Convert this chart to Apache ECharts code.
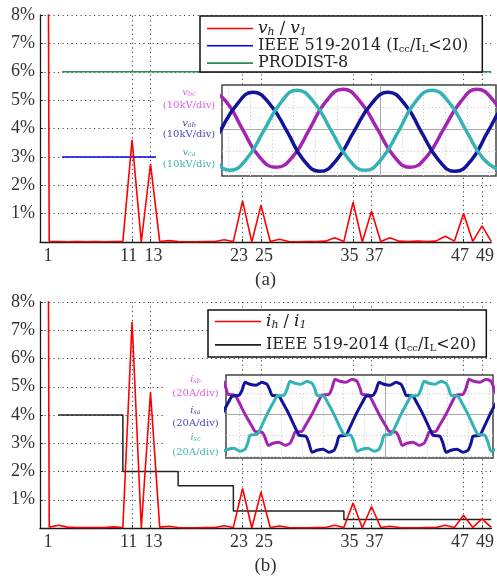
<!DOCTYPE html>
<html>
<head>
<meta charset="utf-8">
<script src="https://cdn.jsdelivr.net/npm/echarts@6/dist/echarts.min.js"></script>
<style>
html, body { margin: 0; padding: 0; background: #fff; }
#chart { width: 497px; height: 584px; }
</style>
</head>
<body>
<div id="chart"></div>
<script>
// harmonic spectra, percent of fundamental
const harmonicOrders = [1,2,3,4,5,6,7,8,9,10,11,12,13,14,15,16,17,18,19,20,21,22,23,24,25,
  26,27,28,29,30,31,32,33,34,35,36,37,38,39,40,41,42,43,44,45,46,47,48,49,50];
const vhPercent = [100,0.02,0.02,0.01,0.02,0.01,0.02,0.01,0.02,0.02,3.6,0,2.75,0.02,0.05,0.02,0.01,0.01,0.02,0.02,
  0.08,0.02,1.45,0,1.3,0.02,0.1,0.02,0.01,0.02,0.02,0.03,0.15,0.02,1.4,0,1.08,0.02,0.15,0.03,
  0.02,0.03,0.02,0.03,0.2,0.03,1.0,0.02,0.57,0.02];
const ihPercent = [100,0.03,0.1,0.03,0.02,0.02,0.02,0.02,0.04,0.02,7.3,0,4.8,0.03,0.06,0.02,0.01,0.01,0.02,0.02,
  0.08,0.02,1.4,0,1.27,0.02,0.07,0.02,0.01,0.01,0.02,0.02,0.1,0.02,0.88,0,0.76,0.02,0.06,0.02,
  0.01,0.01,0.02,0.02,0.1,0.02,0.45,0.02,0.32,0.02];

// limits
const ieeeVOrders = [3.4, 50];
const ieeeVLimit = [3, 3];
const prodistOrders = [3.4, 50];
const prodistLimit = [6, 6];
const ieeeIOrders = [3, 10, 10, 16, 16, 22, 22, 34, 34, 50];
const ieeeILimit = [4, 4, 2, 2, 1.5, 1.5, 0.6, 0.6, 0.3, 0.3];

const tickOrders = [1, 11, 13, 23, 25, 35, 37, 47, 49];

// oscilloscope insets: [time (px from left of screen), level (px from centre)]
const vbcWave = [[-13,40],[4,28],[20,1],[37,-27],[54,-38],[71,-27],[88,1],[104,28],[121,40],[138,28],[155,1],
  [172,-27],[188,-38],[205,-27],[222,1],[239,28],[255,40],[272,28],[289,1]];
const vabWave = [[-35,-42],[-18,-30],[-2,-2],[15,25],[31,37],[48,25],[65,-2],[81,-30],[98,-42],[115,-30],[132,-2],
  [149,25],[166,37],[183,25],[199,-2],[216,-30],[233,-42],[250,-30],[266,-2],[283,25],[300,37]];
const vcaWave = [[-59,39],[-42,27],[-25,-1],[-8,-29],[8,-41],[25,-29],[42,-1],[59,27],[75,39],[92,27],[109,-1],
  [126,-29],[143,-41],[160,-29],[177,-1],[193,27],[210,39],[227,27],[244,-1],[261,-29],[278,-41]];

const isbWave = [[-20,33],[-14,32],[-8,35],[-3,33],[0,26],[2,20],[9,19],[12,14],[19,0],[26,-12],[29,-17],[36,-18],
  [39,-23],[42,-31],[47,-29],[53,-28],[59,-31],[64,-29],[67,-23],[69,-18],[76,-17],[79,-12],[86,0],[93,14],
  [96,19],[103,20],[106,26],[109,35],[114,33],[120,32],[126,35],[131,33],[134,26],[136,20],[143,19],[146,14],
  [153,0],[160,-12],[163,-17],[170,-18],[173,-23],[176,-31],[181,-29],[187,-28],[193,-31],[198,-29],[201,-23],
  [203,-18],[210,-17],[213,-12],[220,0],[227,14],[230,19],[237,20],[240,26],[243,35],[248,33],[254,32],
  [260,35],[265,33],[268,26],[270,20]];
const isaWave = [[-37,-35],[-31,-38],[-26,-36],[-23,-29],[-21,-22],[-14,-21],[-11,-15],[-4,0],[3,13],[6,18],
  [13,19],[16,24],[19,32],[24,30],[30,29],[36,32],[41,30],[44,24],[46,19],[53,18],[56,13],[63,0],[70,-15],
  [73,-21],[80,-22],[83,-29],[86,-38],[91,-36],[97,-35],[103,-38],[108,-36],[111,-29],[113,-22],[120,-21],
  [123,-15],[130,0],[137,13],[140,18],[147,19],[150,24],[153,32],[158,30],[164,29],[170,32],[175,30],[178,24],
  [180,19],[187,18],[190,13],[197,0],[204,-15],[207,-21],[214,-22],[217,-29],[220,-38],[225,-36],[231,-35],
  [237,-38],[242,-36],[245,-29],[247,-22],[254,-21],[257,-15],[264,0],[271,13],[274,18]];
const iscWave = [[-59,30],[-53,33],[-48,31],[-45,25],[-43,19],[-36,18],[-33,13],[-26,0],[-19,-15],[-16,-20],
  [-9,-21],[-6,-28],[-3,-37],[2,-35],[8,-34],[14,-37],[19,-35],[22,-28],[24,-21],[31,-20],[34,-15],[41,0],
  [48,13],[51,18],[58,19],[61,25],[64,33],[69,31],[75,30],[81,33],[86,31],[89,25],[91,19],[98,18],[101,13],
  [108,0],[115,-15],[118,-20],[125,-21],[128,-28],[131,-37],[136,-35],[142,-34],[148,-37],[153,-35],[156,-28],
  [158,-21],[165,-20],[168,-15],[175,0],[182,13],[185,18],[192,19],[195,25],[198,33],[203,31],[209,30],
  [215,33],[220,31],[223,25],[225,19],[232,18],[235,13],[242,0],[249,-15],[252,-20],[259,-21],[262,-28],
  [265,-37],[270,-35],[276,-34]];

const FONT = 'DejaVu Serif';
const TICKFONT = "'Liberation Serif', 'Times New Roman', serif";
const INK = '#333';
const RED = '#ff0000';
const MAG = '#a424b2', NAVY = '#12129a', TEAL = '#33b3b3';
const DOTS = { type: [1.2, 3.3], color: '#444', width: 1 };

const pairs = (xs, ys) => xs.map((x, i) => [x, ys[i]]);

const chart = echarts.init(document.getElementById('chart'));

// paired labels sit a little apart from their ticks
const tickRich = {
  first: { padding: [0, 0, 0, 16] },
  lo: { padding: [0, 7, 0, 0] },
  hi: { padding: [0, 0, 0, 6] }
};
Object.values(tickRich).forEach(r => Object.assign(r, { fontFamily: TICKFONT, fontSize: 18, color: INK }));
function tickLabel(v) {
  if (v === 1) return '{first|1}';
  return tickOrders.indexOf(v) % 2 === 1 ? '{lo|' + v + '}' : '{hi|' + v + '}';
}

function mainX(gridIndex, caption) {
  return {
    type: 'value', gridIndex, min: 1, max: 50,
    name: caption, nameLocation: 'middle', nameGap: 29,
    nameTextStyle: { fontFamily: TICKFONT, fontSize: 19, color: INK },
    axisLine: { show: true, lineStyle: { color: '#1a1a1a', width: 1.3 } },
    axisTick: { show: true, inside: true, length: 3, customValues: tickOrders, lineStyle: { color: '#1a1a1a' } },
    axisLabel: {
      customValues: tickOrders, margin: 5, fontFamily: TICKFONT, fontSize: 18, color: INK,
      showMaxLabel: true, showMinLabel: true, hideOverlap: false,
      formatter: tickLabel, rich: tickRich
    },
    splitLine: { show: false }
  };
}
function mainY(gridIndex) {
  return {
    type: 'value', gridIndex, min: 0, max: 8, interval: 1,
    axisLine: { show: true, lineStyle: { color: '#1a1a1a', width: 1.3 } },
    axisTick: { show: true, inside: true, length: 3, lineStyle: { color: '#1a1a1a' } },
    axisLabel: { margin: 5, fontFamily: TICKFONT, fontSize: 18, color: INK, formatter: v => v === 0 ? '' : v + '%' },
    splitLine: { show: true, lineStyle: DOTS }
  };
}
function insetX(gridIndex, w) { return { type: 'value', gridIndex, min: 0, max: w, show: false }; }
function insetY(gridIndex, lo, hi) { return { type: 'value', gridIndex, min: lo, max: hi, show: false }; }

// vertical dotted grid at the labelled orders
const orderGrid = {
  silent: true, symbol: 'none', z: 1, label: { show: false },
  lineStyle: DOTS,
  data: tickOrders.filter(o => o > 1).map(o => ({ xAxis: o }))
};

// scope graticule as mark lines
function graticule(centre, step, w, lo, hi) {
  const lines = [];
  for (let x = centre - step; x > 2; x -= step) lines.push({ xAxis: x });
  for (let x = centre + step; x < w - 2; x += step) lines.push({ xAxis: x });
  for (let y = step; y < hi - 2; y += step) lines.push({ yAxis: y });
  for (let y = -step; y > lo + 2; y -= step) lines.push({ yAxis: y });
  const dotted = { type: [1, 2.5], color: '#c4c4c4', width: 1 };
  lines.forEach(l => l.lineStyle = dotted);
  lines.push({ xAxis: centre, lineStyle: { type: 'solid', color: '#aaa', width: 1 } });
  lines.push({ yAxis: 0, lineStyle: { type: 'solid', color: '#aaa', width: 1 } });
  return { silent: true, symbol: 'none', z: 11, label: { show: false }, data: lines };
}

function wave(name, xi, data, color, width, smooth, mark) {
  const s = {
    name, type: 'line', xAxisIndex: xi, yAxisIndex: xi, data, symbol: 'none', smooth,
    lineStyle: { color, width }, z: 12, silent: true
  };
  if (mark) s.markLine = mark;
  return s;
}

const rich = {
  n: { fontFamily: FONT, fontSize: 16, lineHeight: 18, color: '#222' },
  it: { fontFamily: FONT, fontStyle: 'italic', fontSize: 17, lineHeight: 18, color: '#222' },
  sub: { fontFamily: FONT, fontSize: 10, lineHeight: 10, verticalAlign: 'bottom', color: '#222' },
  isub: { fontFamily: FONT, fontStyle: 'italic', fontSize: 11, lineHeight: 10, verticalAlign: 'bottom', color: '#222' }
};
const legendText = {
  vh: '{it|v}{isub|h}{n| / }{it|v}{isub|1}',
  ih: '{it|i}{isub|h}{n| / }{it|i}{isub|1}',
  ieeeV: '{n|IEEE 519-2014 (I}{sub|cc}{n|/I}{sub|L}{n|<20)}',
  ieeeI: '{n|IEEE 519-2014 (I}{sub|cc}{n|/I}{sub|L}{n|<20)}',
  prodist: '{n|PRODIST-8}'
};
function legend(names, left, top, padding, gap) {
  return {
    data: names, orient: 'vertical', left, top, padding, itemGap: gap,
    icon: 'rect', itemWidth: 46, itemHeight: 1.6, selectedMode: false,
    backgroundColor: '#fff', borderColor: '#111', borderWidth: 1.5, borderRadius: 0,
    formatter: name => legendText[name],
    textStyle: { rich }
  };
}

// inset side labels
const labelRich = (c) => ({
  it: { fontFamily: FONT, fontStyle: 'italic', fontSize: 10, lineHeight: 11, fill: c },
  sb: { fontFamily: FONT, fontStyle: 'italic', fontSize: 6.5, lineHeight: 6, verticalAlign: 'bottom', fill: c },
  p: { fontFamily: FONT, fontSize: 10, lineHeight: 11, fill: c }
});
const labelDefs = [
  ['{it|v}{sb|bc}', 189, 92, '#dd5fdd'], ['{p|(10kV/div)}', 189, 105, '#dd5fdd'],
  ['{it|v}{sb|ab}', 189, 123.5, '#4646c4'], ['{p|(10kV/div)}', 189, 134, '#4646c4'],
  ['{it|v}{sb|ca}', 189, 152, '#44b4b4'], ['{p|(10kV/div)}', 189, 164, '#44b4b4'],
  ['{it|i}{sb|sb}', 195.5, 379.5, '#dd5fdd'], ['{p|(20A/div)}', 195.5, 393.5, '#dd5fdd'],
  ['{it|i}{sb|sa}', 195.5, 410, '#4646c4'], ['{p|(20A/div)}', 195.5, 423.5, '#4646c4'],
  ['{it|i}{sb|sc}', 195.5, 437.5, '#44b4b4'], ['{p|(20A/div)}', 195.5, 452, '#44b4b4']
];
const graphics = [
  { type: 'rect', shape: { x: 156, y: 86, width: 65, height: 88 }, style: { fill: '#fff' }, z: 9, silent: true },
  { type: 'rect', shape: { x: 166, y: 373, width: 59, height: 86 }, style: { fill: '#fff' }, z: 9, silent: true }
].concat(labelDefs.map(([text, x, y, c]) => ({
  type: 'text', z: 10, silent: true,
  style: { text, x, y, align: 'center', verticalAlign: 'middle', fill: c, rich: labelRich(c) }
})));

chart.setOption({
  animation: false,
  backgroundColor: '#fff',
  grid: [
    { left: 40, top: 15, width: 454, height: 227 },
    { left: 222, top: 85, width: 274, height: 91, show: true, backgroundColor: '#fff', borderColor: '#444', borderWidth: 1.5, z: 10 },
    { left: 40, top: 302, width: 454, height: 226 },
    { left: 226, top: 375, width: 267, height: 83, show: true, backgroundColor: '#fff', borderColor: '#444', borderWidth: 1.5, z: 10 }
  ],
  xAxis: [mainX(0, '(a)'), insetX(1, 274), mainX(2, '(b)'), insetX(3, 267)],
  yAxis: [mainY(0), insetY(1, -46.7, 44.3), mainY(2), insetY(3, -43.7, 39.3)],
  legend: [
    legend(['vh', 'ieeeV', 'prodist'], 200, 16, [4, 14, 1, 7], 0.3),
    legend(['ih', 'ieeeI'], 208, 310, [3, 10, 3, 7], 6.4)
  ],
  graphic: graphics,
  series: [
    { name: 'ieeeV', type: 'line', xAxisIndex: 0, yAxisIndex: 0, data: pairs(ieeeVOrders, ieeeVLimit), symbol: 'none',
      lineStyle: { color: '#0000ee', width: 1.5 }, itemStyle: { color: '#0000ee' }, z: 2, markLine: orderGrid },
    { name: 'prodist', type: 'line', xAxisIndex: 0, yAxisIndex: 0, data: pairs(prodistOrders, prodistLimit), symbol: 'none',
      lineStyle: { color: '#2e8b57', width: 1.5 }, itemStyle: { color: '#2e8b57' }, z: 2 },
    { name: 'vh', type: 'line', xAxisIndex: 0, yAxisIndex: 0, data: pairs(harmonicOrders, vhPercent), symbol: 'none',
      lineStyle: { color: RED, width: 1.6 }, itemStyle: { color: RED }, z: 3 },
    { name: 'ieeeI', type: 'line', xAxisIndex: 2, yAxisIndex: 2, data: pairs(ieeeIOrders, ieeeILimit), symbol: 'none',
      lineStyle: { color: '#222', width: 1.5 }, itemStyle: { color: '#222' }, z: 2, markLine: orderGrid },
    { name: 'ih', type: 'line', xAxisIndex: 2, yAxisIndex: 2, data: pairs(harmonicOrders, ihPercent), symbol: 'none',
      lineStyle: { color: RED, width: 1.6 }, itemStyle: { color: RED }, z: 3 },
    wave('vbc', 1, vbcWave, MAG, 3.5, 0.5, graticule(158.3, 21.7, 274, -46.7, 44.3)),
    wave('vab', 1, vabWave, NAVY, 3.5, 0.5),
    wave('vca', 1, vcaWave, TEAL, 3.5, 0.5),
    wave('isb', 3, isbWave, MAG, 3, 0.2, graticule(159.3, 20.8, 267, -43.7, 39.3)),
    wave('isa', 3, isaWave, NAVY, 3, 0.2),
    wave('isc', 3, iscWave, TEAL, 3, 0.2)
  ]
});
</script>
</body>
</html>
